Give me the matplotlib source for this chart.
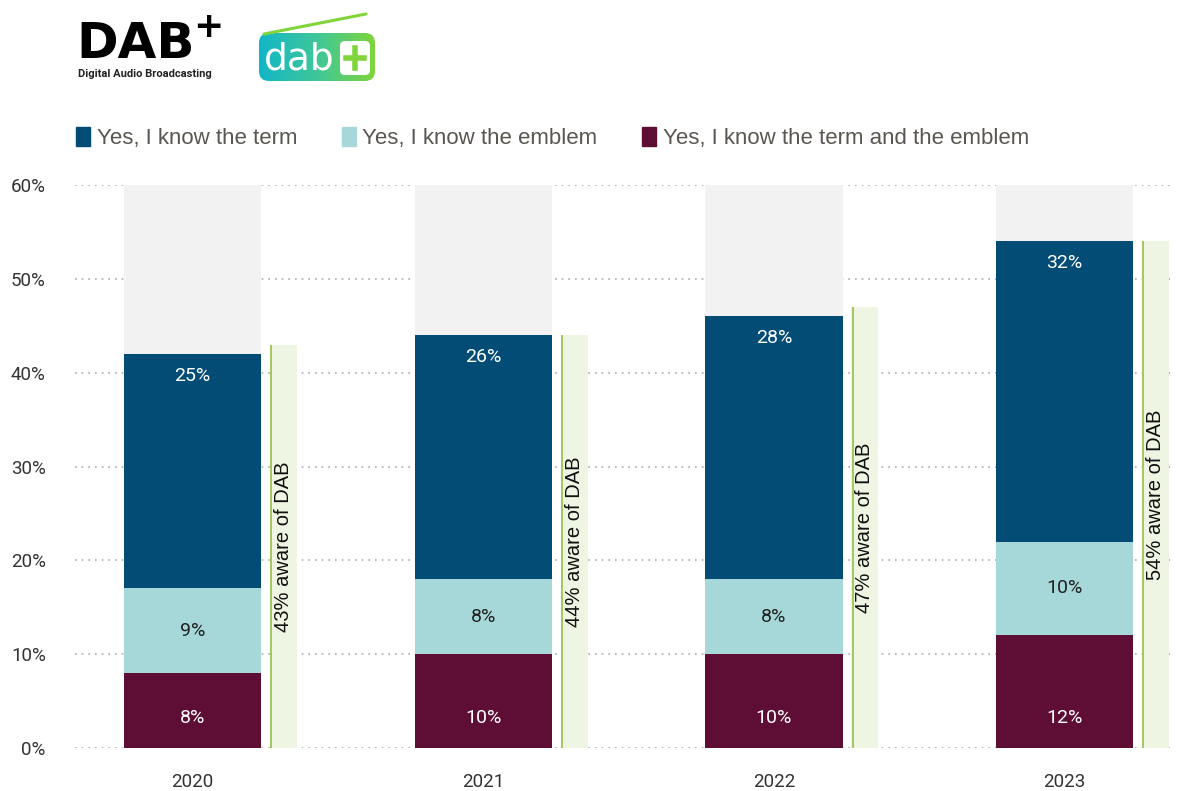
import numpy as np
import matplotlib.pyplot as plt
import matplotlib.patches as mpatches
from matplotlib.patches import FancyBboxPatch
from matplotlib.colors import LinearSegmentedColormap

# Survey results: awareness of DAB+ term / emblem
years = ['2020', '2021', '2022', '2023']
term_only = [25, 26, 28, 32]
emblem_only = [9, 8, 8, 10]
term_and_emblem = [8, 10, 10, 12]
aware_total = [43, 44, 47, 54]
y_ticks = [0, 10, 20, 30, 40, 50, 60]

c_term = '#034c76'
c_emblem = '#a7d8d9'
c_both = '#5e0e34'
c_bg = '#f2f2f2'
c_aware = '#eef5e3'
c_aware_line = '#9cc653'

narrow = ['Liberation Sans Narrow', 'Roboto', 'DejaVu Sans']
plain = ['Liberation Sans', 'DejaVu Sans']

fig = plt.figure(figsize=(11.78, 7.91), dpi=100)
W, H = 1178, 791
ax = fig.add_axes([75 / W, (H - 748) / H, (1175 - 75) / W, (748 - 185) / H])

x = np.arange(len(years))
bw = 0.472
gx = 0.313
gw = 0.093

# grey background column up to the top of the scale
ax.bar(x, [60] * len(x), width=bw, color=c_bg, zorder=1)

bottoms = np.zeros(len(x))
ax.bar(x, term_and_emblem, width=bw, bottom=bottoms, color=c_both, zorder=2)
bottoms += term_and_emblem
ax.bar(x, emblem_only, width=bw, bottom=bottoms, color=c_emblem, zorder=2)
bottoms2 = bottoms + emblem_only
ax.bar(x, term_only, width=bw, bottom=bottoms2, color=c_term, zorder=2)
tops = bottoms2 + term_only

# awareness strip next to each column
ax.bar(x + gx, aware_total, width=gw, color=c_aware, zorder=2)
ax.vlines(x + gx - gw / 2 + 0.004, 0, aware_total, color=c_aware_line, lw=1.3, zorder=3)

for i in range(len(x)):
    ax.text(x[i], 3.2, f'{term_and_emblem[i]}%', ha='center', va='center',
            color='white', fontsize=14, family=narrow, zorder=4)
    ax.text(x[i], bottoms[i] + emblem_only[i] / 2, f'{emblem_only[i]}%', ha='center',
            va='center', color='#222222', fontsize=14, family=narrow, zorder=4)
    ax.text(x[i], tops[i] - 2.35, f'{term_only[i]}%', ha='center', va='center',
            color='white', fontsize=14, family=narrow, zorder=4)
    ax.text(x[i] + gx, aware_total[i] / 2, f'{aware_total[i]}% aware of DAB', rotation=90,
            ha='center', va='center', color='#111111', fontsize=14.5, family=plain, zorder=4)

ax.set_ylim(0, 60)
ax.set_xlim(-0.405, 3.38)
ax.set_yticks(y_ticks)
ax.set_yticklabels([f'{t}%' for t in y_ticks], family=narrow, fontsize=13.5, color='#333333')
ax.set_xticks(x)
ax.set_xticklabels(years, family=narrow, fontsize=13.5, color='#333333')
ax.tick_params(length=0)
ax.tick_params(axis='y', pad=21)
ax.tick_params(axis='x', pad=18)
ax.yaxis.grid(True, linestyle=(0, (1, 3)), color='#aaaaaa', lw=1.2, zorder=0)
ax.set_axisbelow(True)
for s in ax.spines.values():
    s.set_visible(False)

handles = [mpatches.Patch(color=c_term, label='Yes, I know the term'),
           mpatches.Patch(color=c_emblem, label='Yes, I know the emblem'),
           mpatches.Patch(color=c_both, label='Yes, I know the term and the emblem')]
leg = fig.legend(handles=handles, loc='center left', bbox_to_anchor=(56 / W, 1 - 138 / H),
                 ncol=3, frameon=False, handlelength=0.63, handleheight=0.95,
                 handletextpad=0.3, columnspacing=2.0, prop={'family': plain, 'size': 16})
for t in leg.get_texts():
    t.set_color('#5a5650')

# logos in pixel coordinates
lax = fig.add_axes([0, 0, 1, 1], zorder=5)
lax.set_xlim(0, W)
lax.set_ylim(H, 0)
lax.axis('off')

lax.text(76, 58, 'DAB', fontsize=36, fontweight='black', family='DejaVu Sans',
         color='black', ha='left', va='baseline')
lax.plot([84, 182], [51, 51], color='white', lw=1.2)
lax.text(193, 37, '+', fontsize=26, fontweight='bold', family='DejaVu Sans',
         color='black', ha='left', va='baseline')
lax.text(78, 77, 'Digital Audio Broadcasting', fontsize=8, fontweight='bold',
         family=narrow, color='#222222', ha='left', va='baseline')

# radio-style dab+ logo with gradient fill
box = FancyBboxPatch((259, 33), 116, 48, boxstyle='round,pad=0,rounding_size=10',
                     facecolor='none', edgecolor='none')
lax.add_patch(box)
grad = np.linspace(0, 1, 256).reshape(1, -1)
cmap = LinearSegmentedColormap.from_list('dabgrad', ['#12b5c8', '#3fc79a', '#7fd53a'])
im = lax.imshow(grad, extent=(259, 375, 81, 33), cmap=cmap, aspect='auto', zorder=6)
im.set_clip_path(box)
lax.plot([264, 366], [34, 14], color='#7fd53a', lw=2.2, solid_capstyle='round', zorder=6)
lax.text(264, 70, 'dab', fontsize=27, color='white', family='DejaVu Sans',
         ha='left', va='baseline', zorder=7)
lax.add_patch(FancyBboxPatch((340, 41), 30, 34, boxstyle='round,pad=0,rounding_size=5',
                             facecolor='white', edgecolor='none', zorder=7))
lax.plot([346, 364], [58, 58], color='#7fd53a', lw=4, zorder=8)
lax.plot([355, 355], [48, 68], color='#7fd53a', lw=4, zorder=8)

fig.savefig('out.png', dpi=100)
